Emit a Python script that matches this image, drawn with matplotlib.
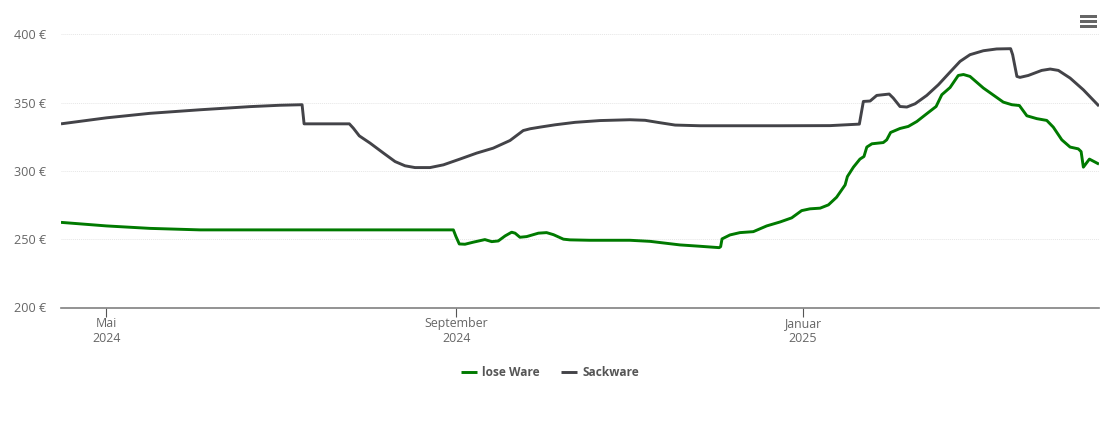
import numpy as np
import matplotlib
matplotlib.use("Agg")
import matplotlib.pyplot as plt
from matplotlib.patches import Rectangle

plt.rcParams['font.family'] = ['Open Sans', 'DejaVu Sans']

START = np.datetime64('2024-05-01')

# Tage seit 1. Mai 2024 und Preis in Euro
lose_tage = [-16, 0, 15.3, 32.9, 68, 117.3, 122, 122.9, 124.1, 126.1, 129, 133.1, 135.5, 137.8, 140.2,
             142.5, 143.7, 145.4, 147.8, 151.9, 154.8, 157.2, 160.7, 163, 170, 184.1, 191.2, 201.7, 208.8,
             215.5, 216, 216.5, 219.3, 222.8, 227.5, 232.2, 236.9, 241, 244.5, 247.4, 251, 253.9, 256.8,
             259.8, 260.6, 262.7, 265, 266.4, 267.4, 269.2, 273.2, 274.4, 275.8, 279.1, 282, 285, 288.5,
             291.8, 293.8, 296.7, 299.6, 301.4, 303.7, 308.4, 311.4, 315.4, 318.4, 321.1, 323.7, 327.2,
             330.7, 333, 336, 338.9, 341.8, 342.8, 343.6, 345.7, 349.1]
lose_preis = [262.3, 259.7, 257.9, 256.8, 256.8, 256.8, 256.8, 251.9, 246.5, 246.3, 247.8, 249.7, 248.2,
              248.7, 252.4, 255.1, 254.4, 251.4, 251.9, 254.4, 254.8, 253.3, 250, 249.5, 249.2, 249.2,
              248.4, 245.8, 244.8, 243.8, 244.5, 250.2, 253.1, 254.8, 255.5, 259.7, 262.6, 265.6, 270.9,
              272.2, 272.7, 275.1, 280.7, 289.7, 295.8, 302.7, 308.6, 310.5, 317.4, 319.8, 320.7, 322.7,
              328.1, 331, 332.5, 336.1, 341.8, 347.1, 355.7, 361, 369.8, 370.5, 369.1, 360.6, 356.2, 350.3,
              348.4, 347.8, 340.3, 338.2, 336.9, 332, 322.7, 317.4, 316.1, 314.1, 302.7, 308.6, 304.9]

sack_tage = [-16, 0, 15.3, 32.9, 50.5, 61, 68.8, 69.5, 85.4, 86.8, 88.9, 92.7, 97.4, 101.5, 105, 108.5,
             113.8, 118.5, 124.3, 130.2, 136, 141.9, 146.6, 149, 152.5, 157.8, 164.8, 173.6, 184.1, 189.4,
             194.7, 200, 208.8, 236.9, 254.5, 264.8, 266.2, 268.6, 270.9, 275.3, 276.7, 279.1, 281.5, 284.4,
             288.5, 292.6, 296.7, 300.2, 303.7, 308.4, 313.1, 318, 318.7, 320.2, 321.3, 324.2, 328.9, 331.9,
             334.8, 338.9, 343.6, 349.1]
sack_preis = [334.4, 338.8, 342.1, 344.7, 347, 348, 348.4, 334.4, 334.4, 331.3, 325.6, 320.3, 313, 306.8,
              303.7, 302.4, 302.4, 304.4, 308.6, 313, 316.6, 322.2, 329.5, 330.8, 332, 333.7, 335.5, 336.8,
              337.4, 337, 335.2, 333.5, 333, 333, 333.1, 334.2, 350.8, 351.1, 355.2, 356.2, 353.3, 347.1,
              346.7, 349.1, 355.2, 363, 372.3, 380.1, 385, 387.9, 389.2, 389.4, 385, 369.1, 368.4, 369.8,
              373.5, 374.5, 373.5, 367.9, 359.3, 347.4]

y_ticks = [200, 250, 300, 350, 400]
x_tick_dates = ['2024-05-01', '2024-09-01', '2025-01-01']
x_tick_labels = ['Mai\n2024', 'September\n2024', 'Januar\n2025']


def to_dates(tage):
    # Stunden, damit auch halbe Tage gehen
    return START + np.round(np.array(tage) * 24).astype(int) * np.timedelta64(1, 'h')


W, H = 1110, 422
fig = plt.figure(figsize=(W / 100, H / 100), dpi=100)
ax = fig.add_axes([61 / W, 1 - 307.5 / H, (1099 - 61) / W, (307.5 - 34.2) / H])

ax.plot(to_dates(lose_tage), lose_preis, color='#007a00', lw=2.1, label='lose Ware',
        solid_joinstyle='round', solid_capstyle='butt', zorder=3)
ax.plot(to_dates(sack_tage), sack_preis, color='#434348', lw=2.1, label='Sackware',
        solid_joinstyle='round', solid_capstyle='butt', zorder=3)

ax.set_xlim(to_dates([-16])[0], to_dates([349.1])[0])
ax.set_ylim(200, 400)

ax.set_yticks(y_ticks)
ax.set_yticklabels([f'{v} €' for v in y_ticks], fontsize=9.1, color='#666666')
ax.tick_params(axis='y', length=0, pad=10.5)
ax.set_xticks(np.array(x_tick_dates, dtype='datetime64[D]'))
ax.set_xticklabels(x_tick_labels, fontsize=8.9, color='#666666', linespacing=1.2)
ax.tick_params(axis='x', length=6.5, width=0.8, color='#555555', pad=0.5)

ax.grid(axis='y', color='#e6e6e6', lw=0.7, ls=(0, (1, 1)))
ax.set_axisbelow(True)
for side in ['top', 'right', 'left']:
    ax.spines[side].set_visible(False)
ax.spines['bottom'].set_color('#808080')
ax.spines['bottom'].set_linewidth(1.2)

leg = ax.legend(loc='center', bbox_to_anchor=(550 / W, 1 - 373 / H), bbox_transform=fig.transFigure,
                ncol=2, frameon=False, handlelength=1.35, columnspacing=1.75, handletextpad=0.48,
                prop={'size': 8.6, 'weight': 'bold'})
for t in leg.get_texts():
    t.set_color('#555555')

# Menue-Symbol oben rechts
for y in [16.5, 21.7, 26.8]:
    fig.add_artist(Rectangle((1079.5 / W, 1 - (y + 1.4) / H), 17 / W, 2.8 / H, transform=fig.transFigure,
                             facecolor='#666666', edgecolor='none'))

fig.savefig('out.png', dpi=100)
